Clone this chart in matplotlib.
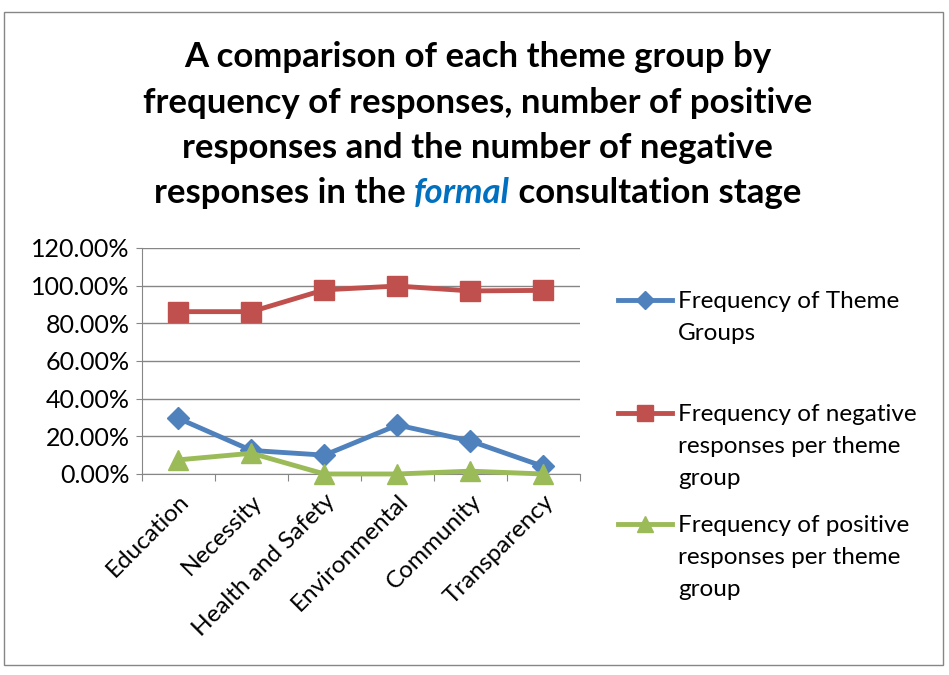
import matplotlib.pyplot as plt
from matplotlib.lines import Line2D
from matplotlib.patches import Rectangle
from matplotlib.ticker import FuncFormatter, MultipleLocator

plt.rcParams['font.family'] = ['Lato', 'DejaVu Sans']

# data (percent)
themes = ['Education', 'Necessity', 'Health and Safety', 'Environmental', 'Community', 'Transparency']
freq_theme = [29.5, 12.5, 10.0, 26.0, 17.5, 4.0]
freq_negative = [86.2, 86.2, 97.8, 99.8, 97.2, 97.5]
freq_positive = [7.5, 11.0, 0.0, 0.0, 1.5, 0.0]
series_labels = ['Frequency of Theme\nGroups',
                 'Frequency of negative\nresponses per theme\ngroup',
                 'Frequency of positive\nresponses per theme\ngroup']

blue = '#4F81BD'
red = '#C0504D'
green = '#9BBB59'
grey = '#868686'
fs = 17.5

fig = plt.figure(figsize=(9.49, 6.75), dpi=100)
ax = fig.add_axes([0.1496, 0.2978, 0.4615, 0.3348])

x = list(range(len(themes)))
styles = [(freq_theme, blue, 'D', 11), (freq_negative, red, 's', 14), (freq_positive, green, '^', 15)]
for vals, c, m, ms in styles:
    ax.plot(x, vals, color=c, lw=3.5, marker=m, ms=ms, clip_on=False, zorder=3)

ax.set_xlim(-0.5, len(themes) - 0.5)
ax.set_ylim(0, 120)
ax.yaxis.set_major_locator(MultipleLocator(20))
ax.yaxis.set_major_formatter(FuncFormatter(lambda v, p: '%.2f%%' % v))
ax.grid(axis='y', color=grey, lw=1)
ax.set_axisbelow(True)
for s in ['top', 'right']:
    ax.spines[s].set_visible(False)
for s in ['left', 'bottom']:
    ax.spines[s].set_color(grey)
    ax.spines[s].set_zorder(1)
ax.set_xticks([i - 0.5 for i in range(len(themes) + 1)])
ax.set_xticklabels([])
ax.set_xticks(x, minor=True)
ax.set_xticklabels(themes, minor=True, rotation=45, ha='right', rotation_mode='anchor', fontsize=fs)
ax.tick_params(axis='x', which='minor', length=0, pad=12)
ax.tick_params(axis='x', which='major', length=5, color=grey, direction='out')
ax.tick_params(axis='y', length=4, color=grey, labelsize=18, pad=5)

# legend drawn by hand so the key sits on the first text line, as in the original
leg_y = [300, 413, 524]
for (vals, c, m, ms), lab, y in zip(styles, series_labels, leg_y):
    yf = 1 - y / 675
    fig.add_artist(Line2D([618 / 949, 645 / 949, 672 / 949], [yf] * 3, transform=fig.transFigure,
                          color=c, lw=3.5, marker=m, ms=ms * 0.8, markevery=[1]))
    fig.text(678 / 949, yf + 9 / 675, lab, ha='left', va='top', fontsize=fs, linespacing=1.65)

# title, last line has an italic blue word
title_lines = ['A comparison of each theme group by',
               'frequency of responses, number of positive',
               'responses and the number of negative']
tsize = 25
ys = [1 - 57 / 675, 1 - 103 / 675, 1 - 148 / 675]
for t, y in zip(title_lines, ys):
    fig.text(0.503, y, t, ha='center', va='center', fontsize=tsize, fontweight='bold')

parts = [('responses in the ', dict(color='black', style='normal')),
         ('formal', dict(color='#0070C0', style='italic')),
         (' consultation stage', dict(color='black', style='normal'))]
renderer = fig.canvas.get_renderer()
texts = []
for s, kw in parts:
    texts.append(fig.text(0, 1 - 203 / 675, s, ha='left', va='baseline', fontsize=tsize,
                          fontweight='bold', **kw))
widths = [t.get_window_extent(renderer).width / fig.bbox.width for t in texts]
xpos = 0.503 - sum(widths) / 2
for t, w in zip(texts, widths):
    t.set_x(xpos)
    xpos += w

fig.patches.append(Rectangle((4 / 949, 1 - 665 / 675), 939 / 949, 653 / 675,
                             transform=fig.transFigure, fill=False, edgecolor=grey, lw=1))

fig.savefig('out.png', dpi=100)
